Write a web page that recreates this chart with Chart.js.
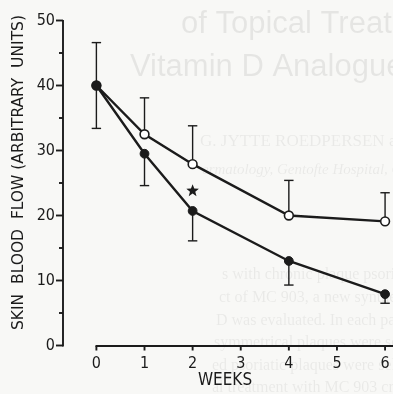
<!DOCTYPE html>
<html><head><meta charset="utf-8">
<script src="https://cdn.jsdelivr.net/npm/chart.js@4/dist/chart.umd.min.js"></script>
<style>html,body{margin:0;padding:0;background:#f8f8f6;overflow:hidden}#wrap{width:393px;height:394px;position:relative}</style>
</head><body><div id="wrap"><canvas id="c" width="393" height="394"></canvas></div>
<script>
// ---- data ----
const weeks = [0, 1, 2, 4, 6];
const vehicleMean = [40, 32.5, 27.9, 20.0, 19.1];      // open circles
const vehicleUpper = [46.6, 38.1, 33.8, 25.4, 23.5];   // upper error bar ends
const mc903Mean = [40, 29.5, 20.7, 13.0, 7.9];         // filled circles
const mc903Lower = [33.4, 24.6, 16.1, 9.3, 6.5];       // lower error bar ends
const starMarks = [{ x: 2, y: 23.8 }];                 // significance star
const xTicks = [0, 1, 2, 3, 4, 5, 6];
const yTicks = [0, 10, 20, 30, 40, 50];
const yMinorTicks = [5, 15, 25, 35, 45];
const xTitle = 'WEEKS';
const yTitle = 'SKIN  BLOOD  FLOW (ARBITRARY  UNITS)';
// faint print-through text from the scanned page behind the figure
const bleedLines = [
  { t: 'of Topical Treatment', x: 181, y: 33, f: '31px "Liberation Sans"' },
  { t: 'Vitamin D Analogue', x: 130, y: 76, f: '31px "Liberation Sans"' },
  { t: 'G. JYTTE ROEDPERSEN and', x: 200, y: 146, f: '17px "Liberation Serif"' },
  { t: 'ermatology, Gentofte Hospital, Copenhagen', x: 202, y: 174, f: 'italic 15px "Liberation Serif"' },
  { t: 's with chronic plaque psoriasis the', x: 222, y: 279, f: '16px "Liberation Serif"' },
  { t: 'ct of MC 903, a new synthetic anal', x: 219, y: 302, f: '16px "Liberation Serif"' },
  { t: 'D was evaluated. In each patient two', x: 216, y: 325, f: '16px "Liberation Serif"' },
  { t: 'symmetrical plaques were selected for', x: 214, y: 347, f: '16px "Liberation Serif"' },
  { t: 'ed psoriatic plaques were selected for', x: 212, y: 370, f: '16px "Liberation Serif"' },
  { t: 'al treatment with MC 903 cream (con-', x: 212, y: 392, f: '16px "Liberation Serif"' }
];

const INK = '#1b1b1b';
const FONT = "'DejaVu Sans Condensed', 'DejaVu Sans', sans-serif";

const figurePlugin = {
  id: 'figure',
  beforeDraw(chart) {
    const ctx = chart.ctx;
    ctx.save();
    ctx.textBaseline = 'alphabetic';
    ctx.textAlign = 'left';
    bleedLines.forEach((l, i) => {
      ctx.fillStyle = i < 2 ? 'rgba(0,0,0,0.075)' : 'rgba(0,0,0,0.06)';
      ctx.font = l.f; ctx.fillText(l.t, l.x, l.y);
    });
    ctx.restore();
  },
  beforeDatasetsDraw(chart) {
    const ctx = chart.ctx;
    const xs = chart.scales.x, ys = chart.scales.y;
    ctx.save();
    ctx.strokeStyle = INK;
    ctx.lineCap = 'butt';
    // y axis
    const ax = chart.chartArea.left;
    ctx.lineWidth = 1.9;
    ctx.beginPath();
    ctx.moveTo(ax, ys.getPixelForValue(50) - 0.5);
    ctx.lineTo(ax, ys.getPixelForValue(0) + 0.9);
    ctx.stroke();
    yTicks.forEach(v => {
      const p = ys.getPixelForValue(v);
      ctx.beginPath(); ctx.moveTo(ax - 7, p); ctx.lineTo(ax, p); ctx.stroke();
    });
    yMinorTicks.forEach(v => {
      const p = ys.getPixelForValue(v);
      ctx.beginPath(); ctx.moveTo(ax - 4, p); ctx.lineTo(ax, p); ctx.stroke();
    });
    // x axis
    const ay = ys.getPixelForValue(0) + 0.5;
    ctx.beginPath();
    ctx.moveTo(xs.getPixelForValue(0) - 0.9, ay);
    ctx.lineTo(chart.width + 2, ay);
    ctx.stroke();
    xTicks.forEach(v => {
      const p = xs.getPixelForValue(v);
      ctx.beginPath(); ctx.moveTo(p, ay); ctx.lineTo(p, ay + 4.5); ctx.stroke();
    });
    // error bars
    ctx.lineWidth = 1.4;
    const bar = (x, y0, y1) => {
      const px = xs.getPixelForValue(x);
      const p0 = ys.getPixelForValue(y0), p1 = ys.getPixelForValue(y1);
      ctx.beginPath(); ctx.moveTo(px, p0); ctx.lineTo(px, p1); ctx.stroke();
      ctx.beginPath(); ctx.moveTo(px - 4.7, p1); ctx.lineTo(px + 4.7, p1); ctx.stroke();
    };
    weeks.forEach((w, i) => {
      bar(w, vehicleMean[i], vehicleUpper[i]);
      bar(w, mc903Mean[i], mc903Lower[i]);
    });
    // significance star
    ctx.fillStyle = INK;
    starMarks.forEach(s => {
      const cx = xs.getPixelForValue(s.x), cy = ys.getPixelForValue(s.y);
      ctx.beginPath();
      for (let k = 0; k < 10; k++) {
        const r = k % 2 === 0 ? 6.6 : 2.8;
        const a = -Math.PI / 2 + k * Math.PI / 5;
        const px = cx + r * Math.cos(a), py = cy + r * Math.sin(a);
        k === 0 ? ctx.moveTo(px, py) : ctx.lineTo(px, py);
      }
      ctx.closePath(); ctx.fill();
    });
    ctx.restore();
  },
  afterDraw(chart) {
    const ctx = chart.ctx;
    ctx.save();
    ctx.fillStyle = INK;
    ctx.font = '16.5px ' + FONT;
    ctx.textAlign = 'center';
    ctx.textBaseline = 'middle';
    const w = ctx.measureText(yTitle).width;
    ctx.translate(19, 172.5);
    ctx.rotate(-Math.PI / 2);
    ctx.scale(315 / w, 1);
    ctx.fillText(yTitle, 0, 0);
    ctx.restore();
  }
};

new Chart(document.getElementById('c'), {
  type: 'line',
  data: {
    datasets: [
      {
        label: 'Vehicle',
        data: weeks.map((w, i) => ({ x: w, y: vehicleMean[i] })),
        borderColor: INK, borderWidth: 2.4,
        pointRadius: 4.4, pointBorderWidth: 1.6,
        pointBackgroundColor: '#ffffff', pointBorderColor: INK,
        tension: 0, clip: false, order: 2
      },
      {
        label: 'MC 903',
        data: weeks.map((w, i) => ({ x: w, y: mc903Mean[i] })),
        borderColor: INK, borderWidth: 2.4,
        pointRadius: 4.4, pointBorderWidth: 1,
        pointBackgroundColor: INK, pointBorderColor: INK,
        tension: 0, clip: false, order: 1
      }
    ]
  },
  options: {
    responsive: false,
    animation: false,
    devicePixelRatio: 1,
    layout: { padding: { top: 20.5, right: 0, bottom: 0, left: 0 } },
    plugins: { legend: { display: false }, tooltip: { enabled: false } },
    scales: {
      x: {
        type: 'linear', min: -0.694, max: 6.04,
        afterBuildTicks: s => { s.ticks = xTicks.map(v => ({ value: v })); },
        afterFit: s => { s.height = 48.5; s.paddingLeft = 0; s.paddingRight = 0; },
        grid: { display: false, drawTicks: false },
        border: { display: false },
        ticks: { color: INK, padding: 9, font: { family: FONT, size: 16 }, maxRotation: 0, autoSkip: false },
        title: { display: true, text: xTitle, color: INK, font: { family: FONT, size: 17 }, padding: { top: 0, bottom: 3 } }
      },
      y: {
        min: 0, max: 50,
        afterBuildTicks: s => { s.ticks = yTicks.map(v => ({ value: v })); },
        afterFit: s => { s.width = 63; s.paddingTop = 0; s.paddingBottom = 0; },
        grid: { display: false, drawTicks: false },
        border: { display: false },
        ticks: { color: INK, padding: 8, font: { family: FONT, size: 16 } }
      }
    }
  },
  plugins: [figurePlugin]
});
</script></body></html>
